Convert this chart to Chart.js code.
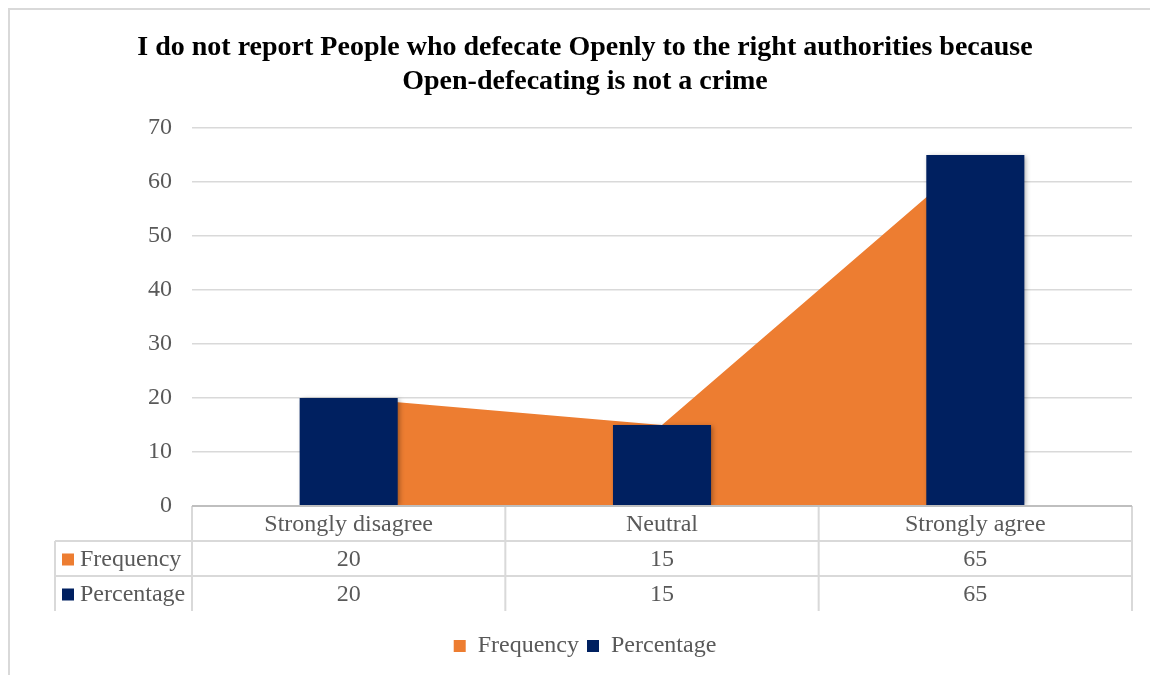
<!DOCTYPE html>
<html>
<head>
<meta charset="utf-8">
<script src="https://cdn.jsdelivr.net/npm/chart.js@4.4.1/dist/chart.umd.min.js"></script>
<style>
  html, body { margin: 0; padding: 0; background: #fff; overflow: hidden; }
  #frame {
    position: absolute; left: 8px; top: 8px; width: 1160px; height: 690px;
    border: 2px solid #d9d9d9; box-sizing: border-box;
  }
  #wrap { position: absolute; left: 0; top: 0; width: 1150px; height: 675px; }
</style>
</head>
<body>
<div id="frame"></div>
<div id="wrap"><canvas id="chart"></canvas></div>
<script>
const categories = ['Strongly disagree', 'Neutral', 'Strongly agree'];
const frequency = [20, 15, 65];
const percentage = [20, 15, 65];
const yTicks = [0, 10, 20, 30, 40, 50, 60, 70];

const ORANGE = '#ED7D31';
const NAVY = '#002060';
const TEXT = '#595959';
const FONT = "'Liberation Serif', 'Times New Roman', serif";

// data table under the category axis
const dataTable = {
  id: 'dataTable',
  afterDraw(chart) {
    const ctx = chart.ctx;
    const x = chart.scales.x;
    const area = chart.chartArea;
    const rowH = 35;
    const top = area.bottom;
    const legendLeft = 55;
    const colW = (area.right - area.left) / categories.length;
    const rows = [
      { name: 'Frequency', color: ORANGE, values: frequency },
      { name: 'Percentage', color: NAVY, values: percentage }
    ];

    ctx.save();
    ctx.strokeStyle = '#d9d9d9';
    ctx.lineWidth = 2;
    ctx.beginPath();
    // horizontal rules
    for (let r = 1; r <= rows.length; r++) {
      const y = top + r * rowH;
      ctx.moveTo(legendLeft, y);
      ctx.lineTo(area.right, y);
    }
    // vertical rules
    ctx.moveTo(legendLeft, top + rowH);
    ctx.lineTo(legendLeft, top + 3 * rowH);
    for (let i = 0; i <= categories.length; i++) {
      const vx = area.left + i * colW;
      ctx.moveTo(vx, top);
      ctx.lineTo(vx, top + 3 * rowH);
    }
    ctx.stroke();

    // axis line
    ctx.strokeStyle = '#bfbfbf';
    ctx.beginPath();
    ctx.moveTo(area.left, top);
    ctx.lineTo(area.right, top);
    ctx.stroke();

    ctx.font = '24px ' + FONT;
    ctx.fillStyle = TEXT;
    ctx.textAlign = 'center';
    ctx.textBaseline = 'middle';
    categories.forEach((c, i) => {
      ctx.fillText(c, x.getPixelForValue(i), top + rowH / 2 + 1);
    });
    rows.forEach((row, r) => {
      const cy = top + (r + 1) * rowH + rowH / 2 + 1;
      ctx.fillStyle = TEXT;
      ctx.textAlign = 'center';
      row.values.forEach((v, i) => {
        ctx.fillText(String(v), x.getPixelForValue(i), cy);
      });
      ctx.fillStyle = row.color;
      ctx.fillRect(legendLeft + 7, cy - 6, 12, 12);
      ctx.fillStyle = TEXT;
      ctx.textAlign = 'left';
      ctx.fillText(row.name, legendLeft + 25, cy);
    });
    ctx.restore();
  }
};

// soft drop shadow on the columns
const barShadow = {
  id: 'barShadow',
  beforeDatasetDraw(chart, args) {
    if (args.meta.type !== 'bar') return;
    const ctx = chart.ctx;
    ctx.save();
    ctx.shadowColor = 'rgba(0,0,0,0.35)';
    ctx.shadowBlur = 5;
    ctx.shadowOffsetX = 2;
    ctx.shadowOffsetY = 1;
  },
  afterDatasetDraw(chart, args) {
    if (args.meta.type !== 'bar') return;
    chart.ctx.restore();
  }
};

new Chart(document.getElementById('chart'), {
  data: {
    labels: categories,
    datasets: [{
      type: 'line',
      label: 'Frequency',
      data: frequency,
      backgroundColor: ORANGE,
      borderColor: ORANGE,
      borderWidth: 0,
      pointRadius: 0,
      fill: 'origin',
      tension: 0,
      order: 2
    }, {
      type: 'bar',
      label: 'Percentage',
      data: percentage,
      backgroundColor: NAVY,
      categoryPercentage: 1,
      barPercentage: 0.313,
      order: 1
    }]
  },
  options: {
    responsive: true,
    maintainAspectRatio: false,
    animation: false,
    layout: { padding: { left: 20, right: 0, top: 0, bottom: 7 } },
    plugins: {
      title: {
        display: true,
        text: ['I do not report People who defecate Openly to the right authorities because',
               'Open-defecating is not a crime'],
        color: '#000',
        font: { family: FONT, size: 28, weight: 'bold', lineHeight: 1.2 },
        padding: { top: 31, bottom: 29.8 }
      },
      legend: {
        position: 'bottom',
        labels: {
          color: TEXT,
          font: { family: FONT, size: 24 },
          boxWidth: 12,
          boxHeight: 12,
          padding: 8,
          sort: (a, b) => a.datasetIndex - b.datasetIndex
        }
      },
      tooltip: { enabled: false }
    },
    scales: {
      x: {
        offset: true,
        grid: { display: false },
        border: { display: false },
        ticks: { display: false },
        afterFit(scale) { scale.height = 120; }
      },
      y: {
        min: 0,
        max: 70,
        afterBuildTicks(scale) { scale.ticks = yTicks.map(v => ({ value: v })); },
        grid: { color: '#d9d9d9', lineWidth: 1.5, drawTicks: false },
        border: { display: false },
        ticks: { color: TEXT, font: { family: FONT, size: 24 }, padding: 20 },
        afterFit(scale) { scale.width = 172; }
      },
      // empty right-hand gutter
      yRight: {
        position: 'right',
        grid: { display: false },
        border: { display: false },
        ticks: { display: false },
        afterFit(scale) { scale.width = 18; }
      }
    }
  },
  plugins: [dataTable, barShadow]
});
</script>
</body>
</html>
